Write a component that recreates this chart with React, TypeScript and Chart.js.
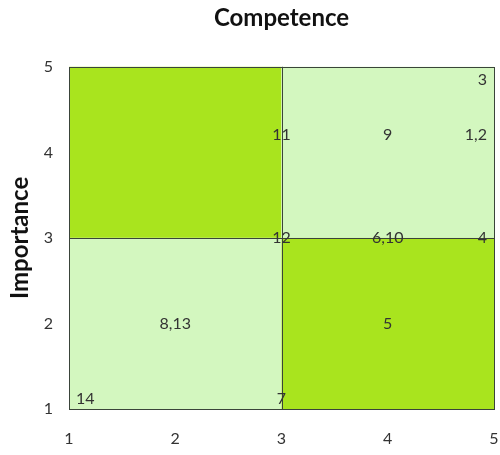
import React, { useEffect, useRef } from "react";
import { Chart, registerables } from "chart.js";

Chart.register(...registerables);

const pointLabels = ["1,2", "3", "4", "5", "6,10", "7", "8,13", "9", "11", "12", "14"];
const competence = [5, 5, 5, 4, 4, 3, 2, 4, 3, 3, 1];
const importance = [4.2, 5, 3, 2, 3, 1, 2, 4.2, 4.2, 3, 1];

const axisTicks = [1, 2, 3, 4, 5];
const splitValue = 3;
// quadrants: [xMin, xMax, yMin, yMax, colour]
const quadX0 = [1, 3, 1, 3];
const quadX1 = [3, 5, 3, 5];
const quadY0 = [3, 3, 1, 1];
const quadY1 = [5, 5, 3, 3];
const DARK = "#a9e41e";
const LIGHT = "#d3f7bf";
const quadColors = [DARK, LIGHT, LIGHT, DARK];

const FONT = "Lato, 'Open Sans', sans-serif";

const quadrantPlugin = {
  id: "quadrants",
  beforeDatasetsDraw(chart: any) {
    const { ctx, scales } = chart;
    const xs = scales.x;
    const ys = scales.y;
    ctx.save();
    for (let i = 0; i < quadColors.length; i++) {
      const l = xs.getPixelForValue(quadX0[i]);
      const r = xs.getPixelForValue(quadX1[i]);
      const t = ys.getPixelForValue(quadY1[i]);
      const b = ys.getPixelForValue(quadY0[i]);
      ctx.fillStyle = quadColors[i];
      ctx.fillRect(l, t, r - l, b - t);
    }
    ctx.strokeStyle = "#3a443a";
    ctx.lineWidth = 1;
    const ca = chart.chartArea;
    const mx = Math.round(xs.getPixelForValue(splitValue)) + 0.5;
    const my = Math.round(ys.getPixelForValue(splitValue)) + 0.5;
    ctx.beginPath();
    ctx.moveTo(mx, ca.top);
    ctx.lineTo(mx, ca.bottom);
    ctx.moveTo(ca.left, my);
    ctx.lineTo(ca.right, my);
    ctx.stroke();
    ctx.strokeRect(Math.round(ca.left) + 0.5, Math.round(ca.top) + 0.5, Math.round(ca.right - ca.left), Math.round(ca.bottom - ca.top));
    ctx.restore();
  },
  afterDatasetsDraw(chart: any) {
    const { ctx, chartArea: ca } = chart;
    const meta = chart.getDatasetMeta(0);
    ctx.save();
    ctx.font = "16px " + FONT;
    ctx.fillStyle = "#333333";
    ctx.textAlign = "center";
    ctx.textBaseline = "middle";
    meta.data.forEach((el: any, i: number) => {
      const text = pointLabels[i];
      const w = ctx.measureText(text).width;
      const padX = 7;
      const padY = 5;
      let x = el.x;
      let y = el.y;
      x = Math.min(Math.max(x, ca.left + padX + w / 2), ca.right - padX - w / 2);
      y = Math.min(Math.max(y, ca.top + padY + 8), ca.bottom - padY - 5);
      ctx.fillText(text, x, y);
    });
    ctx.restore();
  },
};

export default function App() {
  const ref = useRef<HTMLCanvasElement | null>(null);
  useEffect(() => {
    if (!ref.current) return;
    const chart = new Chart(ref.current, {
      type: "scatter",
      data: {
        datasets: [
          {
            data: competence.map((c, i) => ({ x: c, y: importance[i] })),
            pointRadius: 0,
            pointHoverRadius: 0,
          },
        ],
      },
      options: {
        animation: false,
        responsive: true,
        maintainAspectRatio: false,
        layout: { padding: { left: 0, right: 6, top: 0, bottom: 0 } },
        plugins: {
          legend: { display: false },
          tooltip: { enabled: false },
          title: {
            display: true,
            text: "Competence",
            fullSize: false,
            color: "#111111",
            font: { family: FONT, size: 24, weight: "bold" },
            padding: { top: 4, bottom: 34 },
          },
        },
        scales: {
          x: {
            type: "linear",
            min: 1,
            max: 5,
            afterBuildTicks: (s: any) => {
              s.ticks = axisTicks.map((v) => ({ value: v }));
            },
            grid: { display: false, drawTicks: true, tickLength: 20 },
            border: { display: false },
            ticks: {
              color: "#333333",
              font: { family: FONT, size: 16 },
              padding: 0,
              maxRotation: 0,
            },
            afterFit: (s: any) => {
              s.height = 46;
            },
          },
          y: {
            type: "linear",
            min: 1,
            max: 5,
            afterBuildTicks: (s: any) => {
              s.ticks = axisTicks.map((v) => ({ value: v }));
            },
            grid: { display: false, drawTicks: true, tickLength: 16 },
            border: { display: false },
            title: {
              display: true,
              text: "Importance",
              color: "#111111",
              font: { family: FONT, size: 24, weight: "bold" },
              padding: { top: 6, bottom: 0 },
            },
            ticks: {
              color: "#333333",
              font: { family: FONT, size: 16 },
              padding: 0,
            },
            afterFit: (s: any) => {
              s.width = 69;
            },
          },
        },
      },
      plugins: [quadrantPlugin],
    });
    return () => chart.destroy();
  }, []);
  return (
    <div style={{ position: "fixed", left: 0, top: 0, width: 500, height: 455, background: "#ffffff" }}>
      <canvas ref={ref} />
    </div>
  );
}
